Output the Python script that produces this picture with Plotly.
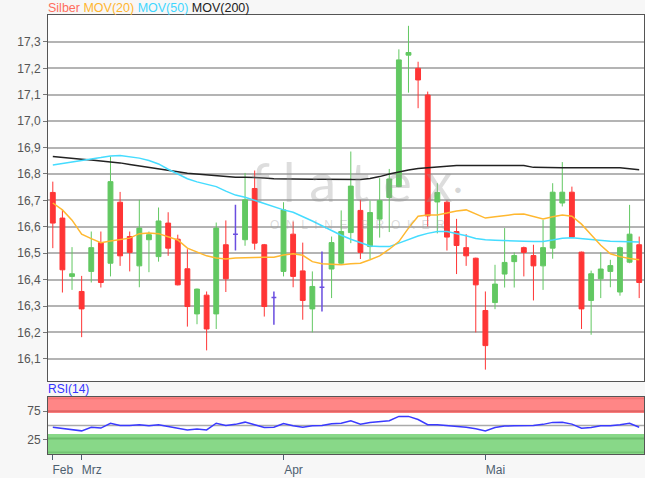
import plotly.graph_objects as go

# ---------------- data ----------------
month_labels = ["Feb", "Mrz", "Apr", "Mai"]
month_start_index = [0, 3, 24, 45]

open_ = [16.730, 16.633, 16.412, 16.355, 16.431, 16.540, 16.462, 16.693, 16.563, 16.452,
         16.551, 16.487, 16.614, 16.553, 16.441, 16.270, 16.341, 16.270, 16.532, 16.572,
         16.551, 16.745, 16.532, 16.332, 16.431, 16.572, 16.433, 16.289, 16.371, 16.440,
         16.462, 16.578, 16.662, 16.525, 16.629, 16.711, 16.752, 17.250, 17.200, 17.099,
         16.694, 16.693, 16.582, 16.521, 16.481, 16.283, 16.313, 16.421, 16.468, 16.521,
         16.491, 16.452, 16.519, 16.690, 16.731, 16.504, 16.321, 16.403, 16.431, 16.353,
         16.466, 16.532]
high = [16.771, 16.664, 16.523, 16.414, 16.582, 16.582, 16.866, 16.732, 16.582, 16.702,
        16.582, 16.673, 16.655, 16.570, 16.515, 16.366, 16.355, 16.616, 16.624, 16.683,
        16.804, 16.813, 16.535, 16.355, 16.693, 16.620, 16.540, 16.431, 16.506, 16.563,
        16.662, 16.885, 16.702, 16.699, 16.784, 16.819, 17.272, 17.361, 17.225, 17.112,
        16.765, 16.700, 16.630, 16.572, 16.483, 16.355, 16.456, 16.595, 16.503, 16.525,
        16.532, 16.626, 16.765, 16.845, 16.752, 16.506, 16.434, 16.503, 16.475, 16.525,
        16.683, 16.563]
low = [16.519, 16.351, 16.361, 16.182, 16.389, 16.370, 16.412, 16.452, 16.431, 16.371,
       16.428, 16.468, 16.490, 16.378, 16.222, 16.231, 16.132, 16.213, 16.353, 16.510,
       16.528, 16.513, 16.260, 16.229, 16.412, 16.371, 16.248, 16.200, 16.279, 16.330,
       16.460, 16.538, 16.478, 16.478, 16.559, 16.580, 16.750, 17.108, 17.049, 16.601,
       16.575, 16.510, 16.421, 16.452, 16.200, 16.059, 16.288, 16.370, 16.370, 16.412,
       16.321, 16.361, 16.479, 16.677, 16.558, 16.213, 16.191, 16.330, 16.371, 16.339,
       16.462, 16.330]
close = [16.614, 16.437, 16.422, 16.289, 16.521, 16.389, 16.771, 16.490, 16.503, 16.595,
         16.570, 16.622, 16.519, 16.380, 16.298, 16.364, 16.213, 16.595, 16.403, 16.572,
         16.702, 16.538, 16.298, 16.332, 16.664, 16.412, 16.321, 16.374, 16.371, 16.540,
         16.582, 16.754, 16.503, 16.654, 16.699, 16.781, 17.232, 17.260, 17.156, 16.641,
         16.730, 16.561, 16.529, 16.490, 16.380, 16.150, 16.383, 16.465, 16.491, 16.503,
         16.452, 16.521, 16.731, 16.731, 16.561, 16.289, 16.422, 16.440, 16.453, 16.521,
         16.572, 16.389]

mov20 = [16.690, 16.664, 16.625, 16.572, 16.555, 16.540, 16.546, 16.551, 16.557, 16.574,
         16.576, 16.574, 16.561, 16.550, 16.519, 16.503, 16.490, 16.482, 16.478, 16.482,
         16.482, 16.484, 16.485, 16.485, 16.493, 16.498, 16.492, 16.468, 16.460, 16.457,
         16.456, 16.460, 16.462, 16.475, 16.490, 16.515, 16.544, 16.595, 16.640, 16.645,
         16.645, 16.652, 16.660, 16.664, 16.650, 16.633, 16.638, 16.643, 16.647, 16.648,
         16.640, 16.630, 16.638, 16.645, 16.640, 16.610, 16.570, 16.530, 16.498, 16.487,
         16.480, 16.475]
mov50 = [16.834, 16.840, 16.847, 16.852, 16.857, 16.862, 16.868, 16.870, 16.866, 16.860,
         16.851, 16.838, 16.818, 16.800, 16.782, 16.770, 16.760, 16.752, 16.735, 16.720,
         16.712, 16.700, 16.688, 16.675, 16.664, 16.655, 16.640, 16.622, 16.604, 16.585,
         16.568, 16.553, 16.540, 16.527, 16.525, 16.525, 16.538, 16.552, 16.565, 16.575,
         16.582, 16.582, 16.575, 16.566, 16.556, 16.551, 16.549, 16.547, 16.546, 16.545,
         16.544, 16.544, 16.550, 16.557, 16.558, 16.555, 16.551, 16.547, 16.545, 16.544,
         16.543, 16.542]
mov200 = [16.866, 16.862, 16.858, 16.856, 16.853, 16.850, 16.847, 16.842, 16.836, 16.830,
          16.824, 16.819, 16.813, 16.808, 16.803, 16.800, 16.796, 16.793, 16.790, 16.788,
          16.788, 16.787, 16.785, 16.782, 16.781, 16.780, 16.780, 16.780, 16.780, 16.780,
          16.779, 16.778, 16.779, 16.783, 16.790, 16.800, 16.808, 16.815, 16.821, 16.824,
          16.826, 16.828, 16.832, 16.832, 16.832, 16.832, 16.832, 16.832, 16.832, 16.832,
          16.825, 16.824, 16.824, 16.824, 16.824, 16.824, 16.824, 16.824, 16.824, 16.824,
          16.820, 16.816]
rsi14 = [47.0, 45.0, 43.0, 40.6, 47.0, 45.5, 54.0, 50.0, 50.0, 51.2,
         49.4, 51.2, 48.3, 45.3, 42.3, 44.0, 42.3, 54.0, 50.0, 52.0,
         55.9, 51.2, 46.6, 47.0, 53.6, 49.4, 47.0, 49.4, 50.0, 53.0,
         54.0, 58.3, 52.4, 55.3, 57.1, 58.3, 66.0, 66.0, 60.5, 51.5,
         51.2, 50.0, 48.5, 47.0, 44.5, 40.6, 46.6, 49.0, 49.4, 49.4,
         50.0, 52.0, 55.5, 55.9, 52.4, 45.3, 46.6, 49.4, 49.4, 51.5,
         54.0, 47.0]

price_ticks = [16.1, 16.2, 16.3, 16.4, 16.5, 16.6, 16.7, 16.8, 16.9, 17.0, 17.1, 17.2, 17.3]
rsi_ticks = [25, 75]

# ---------------- figure ----------------
day_index = list(range(len(open_)))
is_doji = [o == c for o, c in zip(open_, close)]

def pick(seq, keep):
    return [v for v, k in zip(seq, keep) if k]

normal = [not d for d in is_doji]

GREEN = "#62c862"
RED = "#ff3535"
PURPLE = "#6a4ee0"

fig = go.Figure()

fig.add_trace(go.Candlestick(
    x=pick(day_index, normal), open=pick(open_, normal), high=pick(high, normal),
    low=pick(low, normal), close=pick(close, normal),
    increasing=dict(line=dict(color=GREEN, width=1), fillcolor=GREEN),
    decreasing=dict(line=dict(color=RED, width=1), fillcolor=RED),
    whiskerwidth=0, showlegend=False, xaxis="x", yaxis="y"))

fig.add_trace(go.Candlestick(
    x=pick(day_index, is_doji), open=pick(open_, is_doji), high=pick(high, is_doji),
    low=pick(low, is_doji), close=pick(close, is_doji),
    increasing=dict(line=dict(color=PURPLE, width=1.5), fillcolor=PURPLE),
    decreasing=dict(line=dict(color=PURPLE, width=1.5), fillcolor=PURPLE),
    whiskerwidth=0, showlegend=False, xaxis="x", yaxis="y"))

fig.add_trace(go.Scatter(x=day_index, y=mov200, mode="lines",
                         line=dict(color="#222222", width=1.5), showlegend=False))
fig.add_trace(go.Scatter(x=day_index, y=mov50, mode="lines",
                         line=dict(color="#45dcff", width=1.5), showlegend=False))
fig.add_trace(go.Scatter(x=day_index, y=mov20, mode="lines",
                         line=dict(color="#ffb830", width=1.5), showlegend=False))

fig.add_trace(go.Scatter(x=day_index, y=rsi14, mode="lines",
                         line=dict(color="#3a3aff", width=1.5), showlegend=False,
                         xaxis="x2", yaxis="y2"))

AXC = "#555555"
FONT = "Arial, Liberation Sans, sans-serif"

shapes = [
    dict(type="rect", xref="x2 domain", yref="y2", x0=0, x1=1, y0=72, y1=100,
         fillcolor="#ff8686", line=dict(width=0), layer="below"),
    dict(type="line", xref="x2 domain", yref="y2", x0=0, x1=1, y0=75, y1=75,
         line=dict(color="#e26464", width=2), layer="below"),
    dict(type="line", xref="x2 domain", yref="y2", x0=0, x1=1, y0=97.5, y1=97.5,
         line=dict(color="#f07474", width=1.5), layer="below"),
    dict(type="rect", xref="x2 domain", yref="y2", x0=0, x1=1, y0=0, y1=35,
         fillcolor="#88d888", line=dict(width=0), layer="below"),
    dict(type="line", xref="x2 domain", yref="y2", x0=0, x1=1, y0=27, y1=27,
         line=dict(color="#6cbe6c", width=2), layer="below"),
    dict(type="line", xref="x2 domain", yref="y2", x0=0, x1=1, y0=3, y1=3,
         line=dict(color="#72c472", width=1.5), layer="below"),
    dict(type="line", xref="x2 domain", yref="y2", x0=0, x1=1, y0=50, y1=50,
         line=dict(color="#aaaaaa", width=1.5), layer="below"),
]

annotations = [
    dict(xref="paper", yref="paper", x=0, y=1, xanchor="left", yanchor="bottom",
         showarrow=False, yshift=-2, xshift=-2,
         font=dict(family=FONT, size=12.5),
         text="<span style='color:#ff6e5e'>Silber</span> "
              "<span style='color:#ffb52e'>MOV(20)</span> "
              "<span style='color:#3fd6ff'>MOV(50)</span> "
              "<span style='color:#222222'>MOV(200)</span>"),
    dict(xref="paper", yref="paper", x=0, y=0.1298, xanchor="left", yanchor="bottom",
         showarrow=False, xshift=-2, yshift=-1,
         font=dict(family=FONT, size=12, color="#3333ff"), text="RSI(14)"),
    # watermark
    dict(xref="paper", yref="paper", x=0.51, y=0.62, xanchor="center", yanchor="middle",
         showarrow=False, font=dict(family="Lato, Open Sans, sans-serif", size=54,
                                    color="rgba(150,150,150,0.32)"),
         text="f l a t e x"),
    dict(xref="paper", yref="paper", x=0.688, y=0.602, xanchor="center", yanchor="middle",
         showarrow=False, font=dict(family=FONT, size=13, color="rgba(150,150,150,0.38)"),
         text="●"),
    dict(xref="paper", yref="paper", x=0.52, y=0.521, xanchor="center", yanchor="middle",
         showarrow=False, font=dict(family=FONT, size=12, color="rgba(160,160,160,0.38)"),
         text="O  N  L  I  N  E    B  R  O  K  E  R"),
]

fig.update_layout(
    width=645, height=478,
    margin=dict(l=48, r=1, t=15, b=24, autoexpand=False),
    paper_bgcolor="#f7f7f7", plot_bgcolor="#ffffff",
    separators=",.",
    boxgap=0.28,
    font=dict(family=FONT, size=12, color=AXC),
    showlegend=False,
    hovermode=False,
    xaxis=dict(domain=[0, 1], range=[-0.5, 61.5], anchor="y", automargin=False,
               showticklabels=False, showgrid=False, zeroline=False,
               showline=True, mirror=True, linecolor=AXC, linewidth=1, ticks="",
               rangeslider=dict(visible=False)),
    yaxis=dict(domain=[0.1663, 1], range=[16.016, 17.402], anchor="x", automargin=False,
               tickvals=price_ticks, tickformat=".1f",
               showgrid=True, gridcolor="#b4b4b4", gridwidth=1.5, zeroline=False,
               ticks="outside", ticklen=4, tickcolor="#777777",
               showline=True, mirror=True, linecolor=AXC, linewidth=1,
               tickfont=dict(family=FONT, size=12, color="#555555")),
    xaxis2=dict(domain=[0, 1], range=[-0.5, 61.5], anchor="y2", matches="x",
                automargin=False,
                tickvals=month_start_index, ticktext=month_labels,
                ticklabelshift=10, ticklabelstandoff=0,
                showgrid=False, zeroline=False, ticks="outside", ticklen=5,
                tickcolor="#4d6070", showline=True, mirror=True, linecolor=AXC,
                linewidth=1, tickfont=dict(family=FONT, size=12, color="#4d6070"),
                rangeslider=dict(visible=False)),
    yaxis2=dict(domain=[0, 0.1298], range=[0, 100], anchor="x2", automargin=False,
                tickvals=rsi_ticks, showgrid=False, zeroline=False,
                ticks="outside", ticklen=4, tickcolor="#777777",
                showline=True, mirror=True, linecolor=AXC, linewidth=1,
                tickfont=dict(family=FONT, size=12, color="#555555")),
    shapes=shapes,
    annotations=annotations,
)

fig.write_html("out.html", config={"displayModeBar": False},
               post_script="document.body.style.margin='0';document.body.style.padding='0';"
                           "document.body.style.background='#f7f7f7';")
